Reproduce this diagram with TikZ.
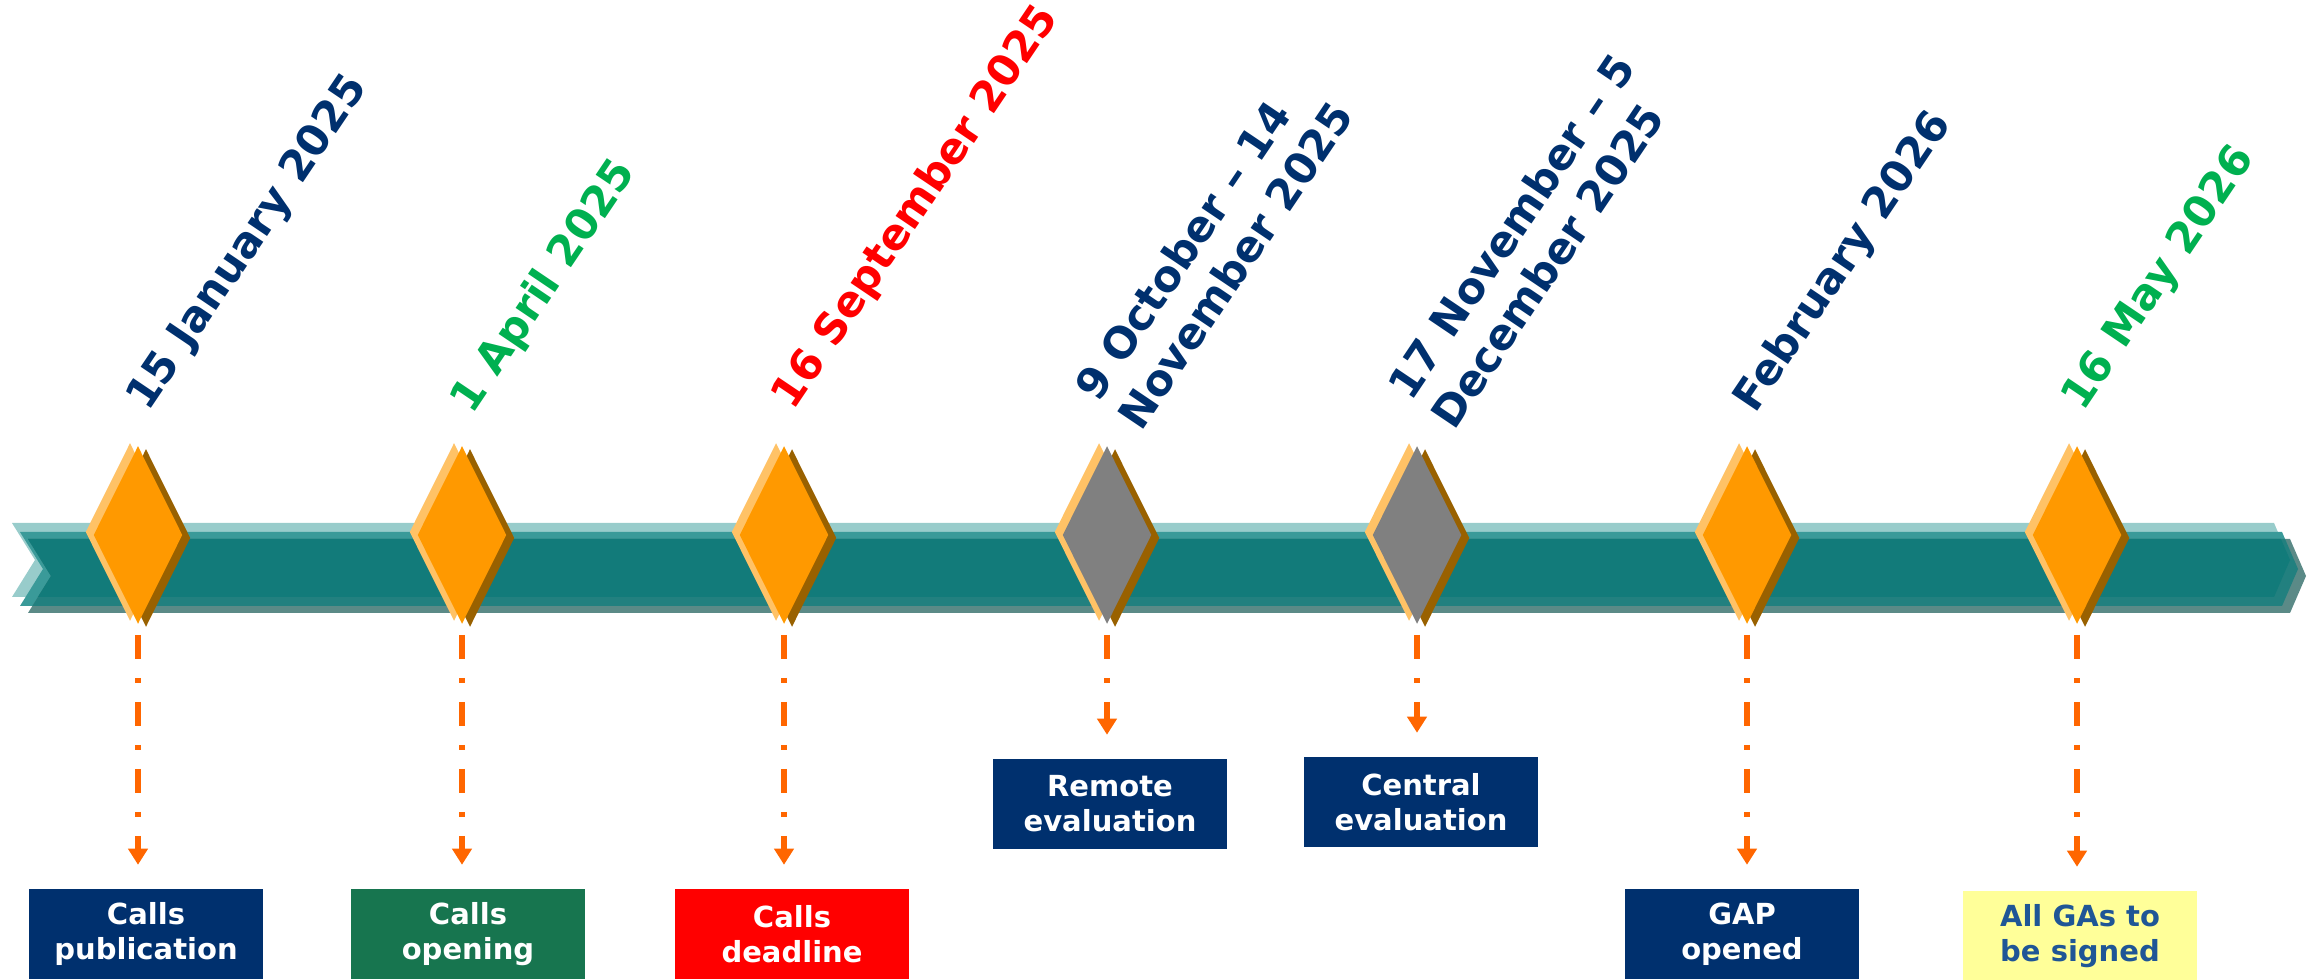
\documentclass[tikz,border=0pt]{standalone}
\usepackage{fontspec}
\setmainfont{DejaVu Sans}
\usetikzlibrary{shapes.geometric,arrows.meta,positioning}

\definecolor{calnavy}{RGB}{0,48,110}
\definecolor{calgreen}{RGB}{0,176,80}
\definecolor{boxgreen}{RGB}{23,117,79}
\definecolor{calred}{RGB}{255,0,0}
\definecolor{boxyellow}{RGB}{255,255,153}
\definecolor{signblue}{RGB}{31,86,150}
\definecolor{gemorange}{RGB}{255,153,0}
\definecolor{gemlight}{RGB}{255,194,102}
\definecolor{gemdark}{RGB}{153,97,0}
\definecolor{gemgray}{RGB}{128,128,128}
\definecolor{arroworange}{RGB}{255,102,0}
\definecolor{bandlight}{RGB}{152,204,203}
\definecolor{bandmid}{RGB}{58,154,153}
\definecolor{bandgrey}{RGB}{91,138,135}
\definecolor{bandmix}{RGB}{34,128,127}
\definecolor{bandmain}{RGB}{18,123,122}

\def\bandpath{(12,523) -- (2274,523) -- (2290,560) -- (2274,597) -- (12,597) -- (35,560) -- cycle}

\begin{document}
\begin{tikzpicture}[x=0.01cm,y=-0.01cm,
    gem/.style={diamond, minimum width=0.89cm, minimum height=1.78cm, inner sep=0pt},
    datelbl/.style={rotate=56, anchor=south west, inner sep=0pt, align=left,
        font=\fontsize{12.2}{14.8}\selectfont\bfseries},
    stagebox/.style={minimum width=2.33cm, minimum height=0.89cm, inner sep=0pt, align=center,
        text=white, font=\fontsize{8.25}{10}\selectfont\bfseries},
    milearrow/.style={draw=arroworange, line width=0.06cm,
        dash pattern=on 0.24cm off 0.19cm on 0.05cm off 0.19cm,
        -{Triangle[width=0.19cm,length=0.16cm]}, shorten <=0.1cm, shorten >=0.24cm}]
    \useasboundingbox (0,0) rectangle (2315,980);

    % timeline band, three shifted layers
    \fill[bandlight] \bandpath;
    \fill[bandmid, shift={(8,9)}] \bandpath;
    \fill[bandgrey, shift={(16,16)}] \bandpath;
    \begin{scope}
        \clip[shift={(8,9)}] \bandpath;
        \fill[bandmix, shift={(16,16)}] \bandpath;
    \end{scope}
    \begin{scope}
        \clip \bandpath;
        \clip[shift={(8,9)}] \bandpath;
        \fill[bandmain, shift={(16,16)}] \bandpath;
    \end{scope}

    % milestones
    \foreach \i/\x/\c in {1/138/gemorange, 2/462/gemorange, 3/784/gemorange, 4/1107/gemgray,
                          5/1417/gemgray, 6/1747/gemorange, 7/2077/gemorange}{
        \node[gem, fill=gemlight] at (\x-8,532) {};
        \node[gem, fill=gemdark] at (\x+8,538) {};
        \node[gem, fill=\c] (d\i) at (\x,535) {};
    }

    % dates
    \node[datelbl, text=calnavy] (t1) at (156,419) {15 January 2025};
    \node[datelbl, text=calgreen] (t2) at (480,421) {1 April 2025};
    \node[datelbl, text=calred] (t3) at (801,417) {16 September 2025};
    \node[datelbl, text=calnavy] (t4) at (1142,434) {9 October -- 14\\November 2025};
    \node[datelbl, text=calnavy] (t5) at (1455,433) {17 November -- 5\\December 2025};
    \node[datelbl, text=calnavy] (t6) at (1763,421) {February 2026};
    \node[datelbl, text=calgreen] (t7) at (2091,419) {16 May 2026};

    % stages
    \node[stagebox, fill=calnavy] (b1) at (146,934) {Calls\\publication};
    \node[stagebox, fill=boxgreen] (b2) at (468,934) {Calls\\opening};
    \node[stagebox, fill=calred] (b3) at (792,934) {Calls\\deadline};
    \node[stagebox, fill=calnavy] (b4) at (1110,804) {Remote\\evaluation};
    \node[stagebox, fill=calnavy] (b5) at (1421,802) {Central\\evaluation};
    \node[stagebox, fill=calnavy] (b6) at (1742,934) {GAP\\opened};
    \node[stagebox, fill=boxyellow, text=signblue] (b7) at (2080,936) {All GAs to\\be signed};

    \foreach \i in {1,...,7}
        \draw[milearrow] (d\i.south) -- (d\i.south |- b\i.north);
\end{tikzpicture}
\end{document}
